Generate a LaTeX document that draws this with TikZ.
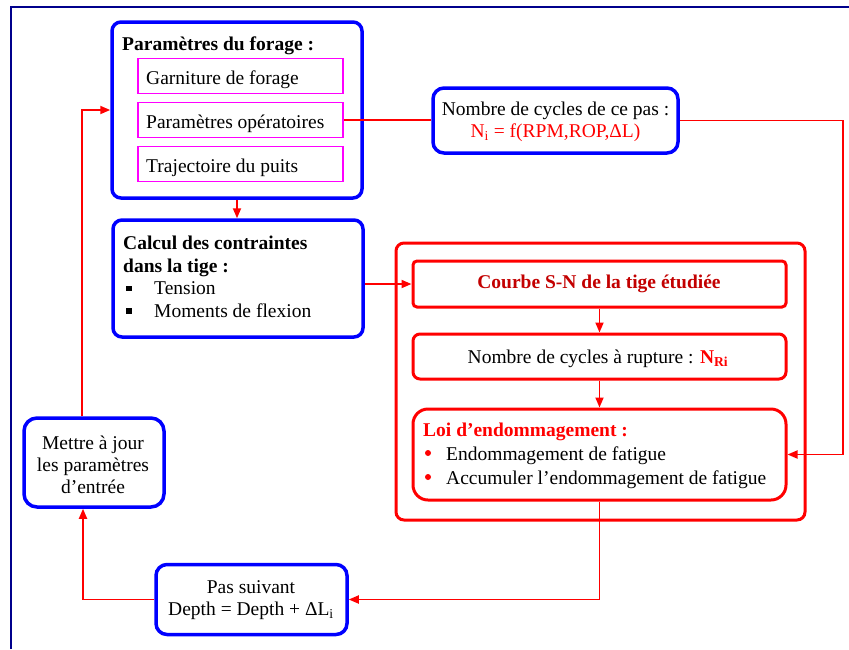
\documentclass[tikz,border=0pt]{standalone}
\usepackage{fontspec}
\setmainfont{Liberation Serif}
\usetikzlibrary{arrows.meta}
\definecolor{navyframe}{RGB}{0,0,140}
\definecolor{darkred}{RGB}{195,0,0}
\definecolor{magentab}{RGB}{255,0,255}
\begin{document}
\begin{tikzpicture}[x=1pt,y=-1pt,
  txt/.style={inner sep=0pt, font=\fontsize{19.5}{22.5}\selectfont},
  bluebox/.style={draw=blue, line width=3.5pt, rounded corners=9pt, inner sep=0pt},
  magbox/.style={draw=magentab, line width=1.8pt, inner sep=0pt, minimum width=205pt, minimum height=35pt},
  redbox/.style={draw=red, line width=3pt, inner sep=0pt},
  conn/.style={draw=red, line width=1.8pt},
  arr/.style={conn, -{Triangle[length=10pt,width=8pt]}},
  sqbullet/.style={fill=black, inner sep=0pt, minimum size=5.5pt},
  rdbullet/.style={circle, fill=red, inner sep=0pt, minimum size=6pt}]
\useasboundingbox (0,0) rectangle (849,649);
\fill[white] (0,0) rectangle (849,649);
% frame
\draw[navyframe, line width=2.8pt] (11,649) -- (11,7) -- (849,7);
% boxes
\node[bluebox, minimum width=250pt, minimum height=176pt] (params) at (237,110) {};
\node[magbox] (m1) at (240.5,76) {};
\node[magbox] (m2) at (240.5,120) {};
\node[magbox] (m3) at (240.5,164) {};
\node[bluebox, rounded corners=11pt, minimum width=245pt, minimum height=65pt] (nombre) at (555.5,120.5) {};
\node[bluebox, minimum width=250pt, minimum height=117pt] (calcul) at (238,278.5) {};
\node[redbox, rounded corners=8pt, minimum width=409pt, minimum height=277pt] (group) at (600.5,381.5) {};
\node[redbox, rounded corners=4pt, minimum width=373pt, minimum height=46pt] (courbe) at (599.5,284) {};
\node[redbox, rounded corners=7pt, minimum width=373pt, minimum height=45pt] (rupture) at (599.5,356.5) {};
\node[redbox, rounded corners=15pt, minimum width=373pt, minimum height=91pt] (loi) at (599.5,454.5) {};
\node[bluebox, rounded corners=13pt, minimum width=140pt, minimum height=89pt] (mettre) at (94,462.5) {};
\node[bluebox, rounded corners=11pt, minimum width=191pt, minimum height=70pt] (pas) at (251.5,599.5) {};
% texts
\node[txt, anchor=base west] (t0) at (122,50) {\textbf{Paramètres du forage :}};
\node[txt, anchor=base west] (t1) at (146,84) {Garniture de forage};
\node[txt, anchor=base west] (t2) at (146,128) {Paramètres opératoires};
\node[txt, anchor=base west] (t3) at (146,172) {Trajectoire du puits};
\node[txt, anchor=base] (n1) at (555.5,115) {Nombre de cycles de ce pas :};
\node[txt, anchor=base, text=red] (n2) at (555.5,137) {N\textsubscript{i} = f(RPM,ROP,ΔL)};
\node[txt, anchor=base west] (c1) at (123,249) {\textbf{Calcul des contraintes}};
\node[txt, anchor=base west] (c2) at (123,272) {\textbf{dans la tige :}};
\node[sqbullet] (cb1) at (129,288.5) {};
\node[sqbullet] (cb2) at (129,311) {};
\node[txt, anchor=base west] (c3) at (154,294) {Tension};
\node[txt, anchor=base west] (c4) at (154,317) {Moments de flexion};
\node[txt, anchor=base, text=darkred] (s1) at (599,288) {\textbf{Courbe S-N de la tige étudiée}};
\node[txt, anchor=base] (r1) at (598,363) {Nombre de cycles à rupture : {\color{red}\textbf{N\textsubscript{Ri}}}};
\node[txt, anchor=base west, text=red] (l1) at (423,436) {\textbf{Loi d’endommagement :}};
\node[rdbullet] (lb1) at (428,453) {};
\node[rdbullet] (lb2) at (428,477) {};
\node[txt, anchor=base west] (l2) at (446,460) {Endommagement de fatigue};
\node[txt, anchor=base west] (l3) at (446,484) {Accumuler l’endommagement de fatigue};
\node[txt, anchor=base] (u1) at (93,449) {Mettre à jour};
\node[txt, anchor=base] (u2) at (93,471) {les paramètres};
\node[txt, anchor=base] (u3) at (93,493) {d’entrée};
\node[txt, anchor=base] (p1) at (251,593) {Pas suivant};
\node[txt, anchor=base] (p2) at (251,615) {Depth = Depth + ΔL\textsubscript{i}};
% connectors
\coordinate (rr) at (843,454.5);
\draw[arr] (params.south) -- (params.south |- calcul.north);
\draw[conn] (m2.east) -- (m2.east -| nombre.west);
\draw[arr] (nombre.east) -| (rr) -- (loi.east);
\draw[arr] (courbe.west -| calcul.east) -- (courbe.west);
\draw[arr] (courbe.south) -- (rupture.north);
\draw[arr] (rupture.south) -- (loi.north);
\draw[arr] (loi.south) |- (pas.east);
\draw[arr] (pas.west) -| ([xshift=-11pt]mettre.south);
\draw[arr] ([xshift=-12pt]mettre.north) |- (params.west);
\end{tikzpicture}
\end{document}
